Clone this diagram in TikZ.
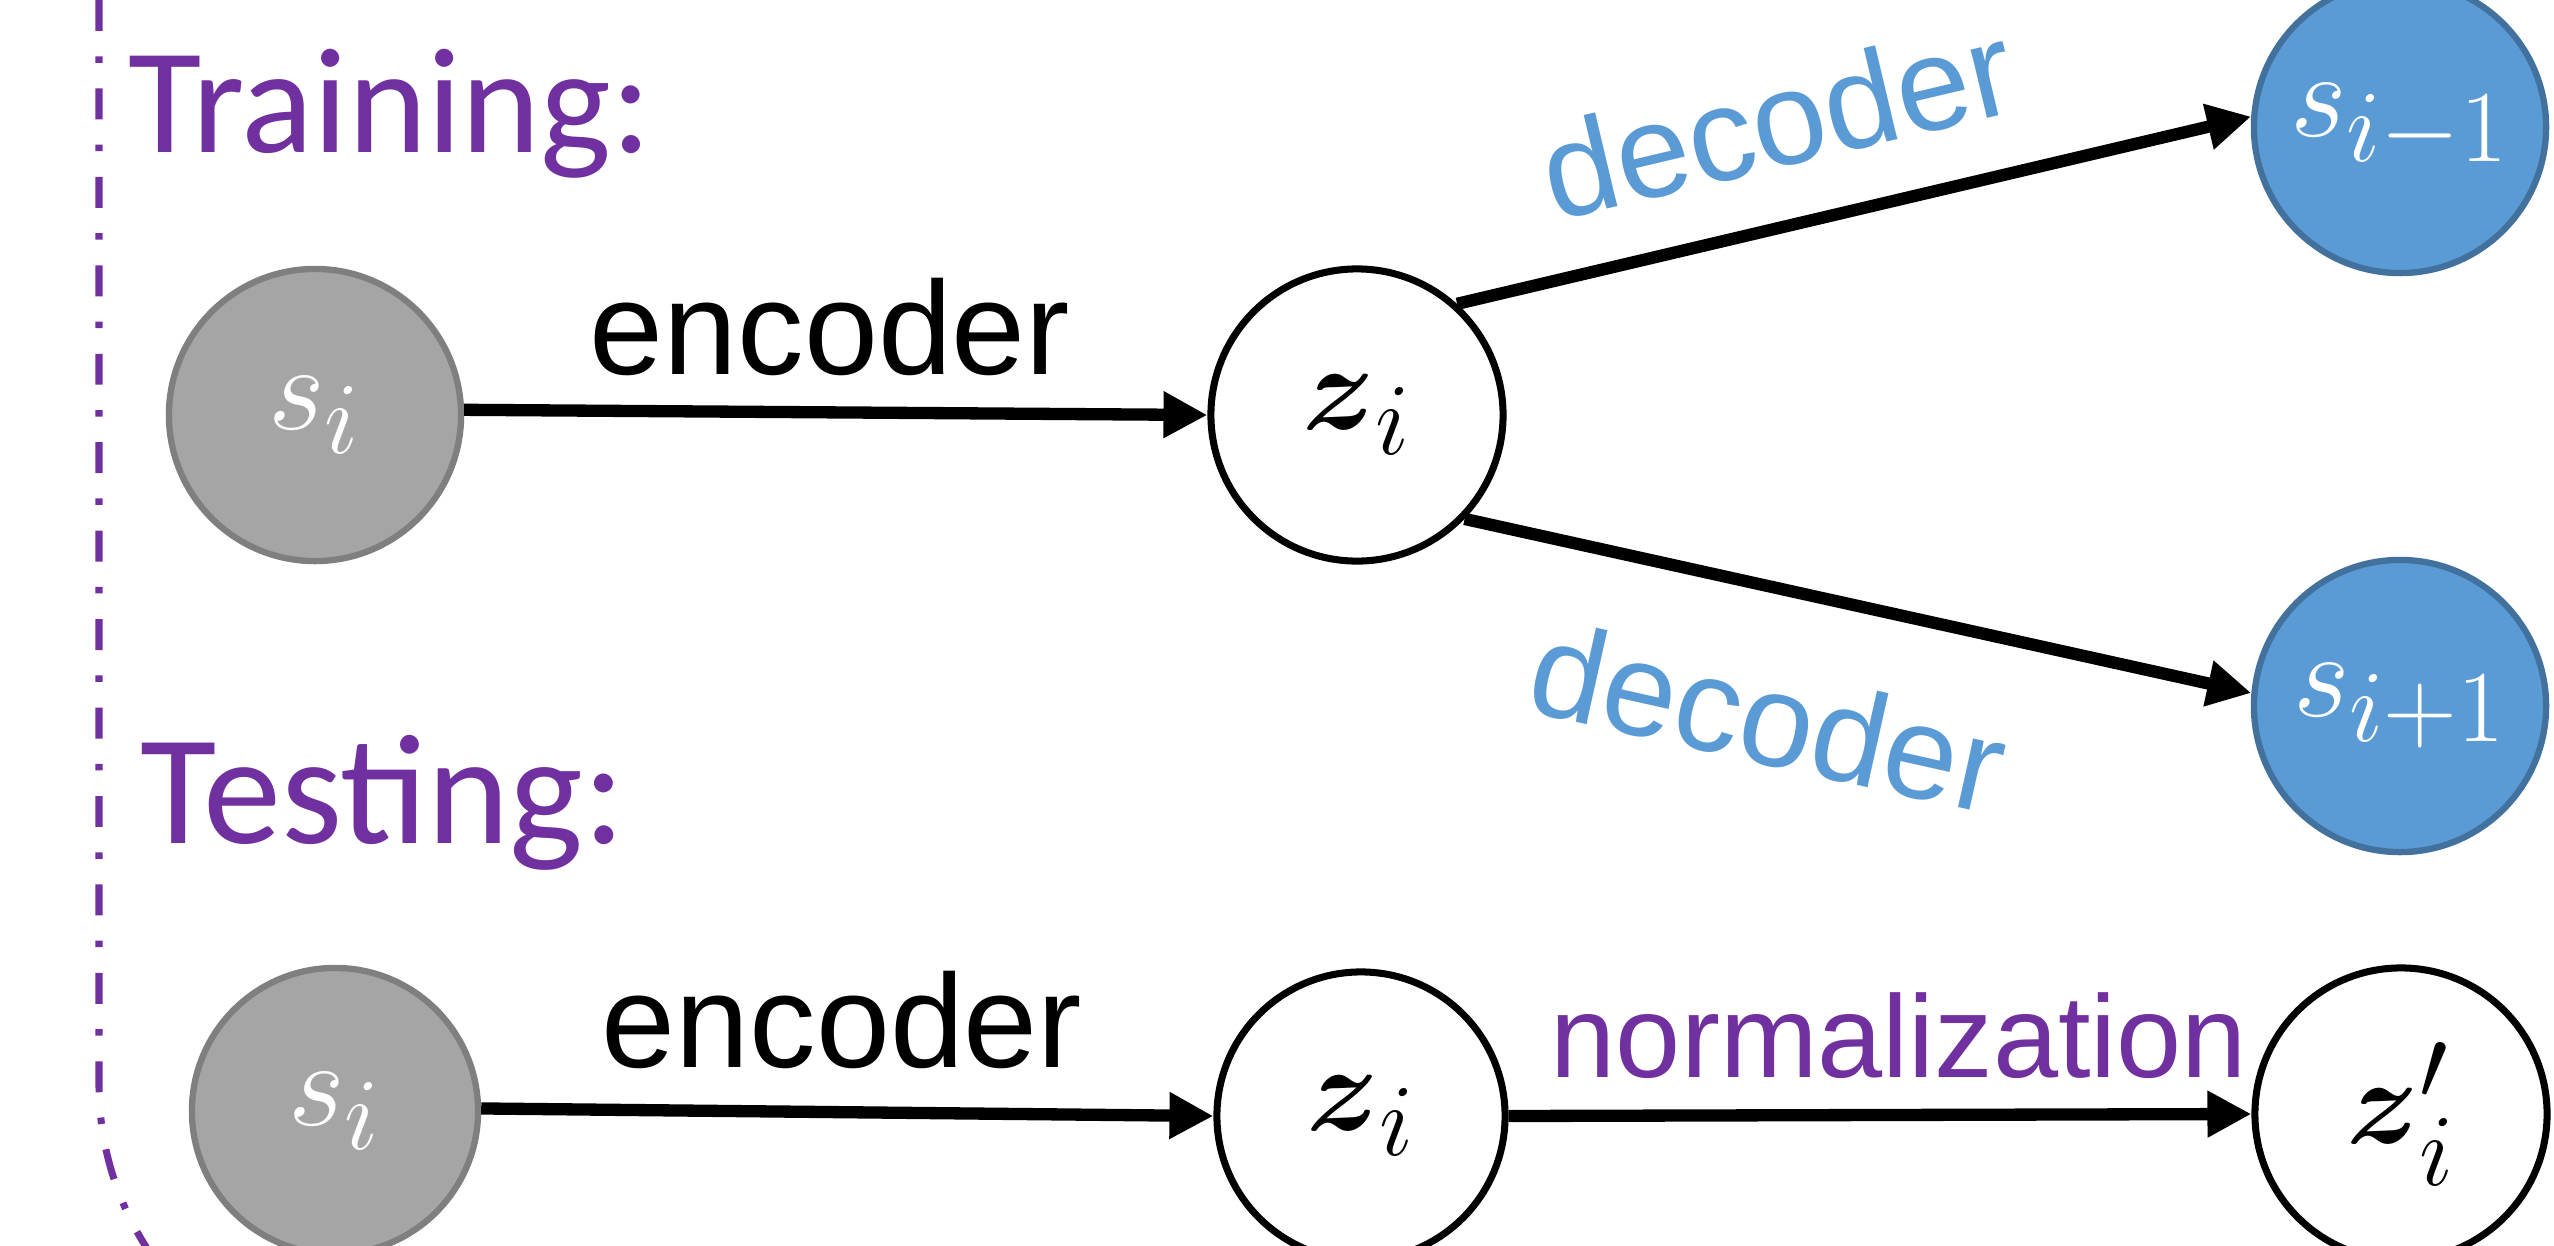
\RequirePackage{fix-cm}
\documentclass[tikz,border=0pt]{standalone}
\usepackage{graphicx}
\usepackage{amsmath,amsbsy}
\usepackage{fontspec}
\newfontfamily\calibrif{Carlito}
\newfontfamily\arialf{Liberation Sans}
\usetikzlibrary{arrows.meta}
\definecolor{purp}{HTML}{7030A0}
\definecolor{bluef}{HTML}{5B9BD5}
\definecolor{blued}{HTML}{41719C}
\definecolor{grayf}{HTML}{A5A5A5}
\definecolor{grayd}{HTML}{7F7F7F}
\newcommand{\bigmath}[1]{\scalebox{1.4}{$#1$}}
\begin{document}
\begin{tikzpicture}[x=0.01cm,y=-0.01cm,
  base/.style={circle, minimum size=2.92cm, inner sep=0pt, line width=1.8pt,
    font=\fontsize{24.88pt}{30pt}\selectfont},
  graynode/.style={base, fill=grayf, draw=grayd, text=white},
  bluenode/.style={base, fill=bluef, draw=blued, text=white},
  whitenode/.style={base, fill=white, draw=black, line width=2pt},
  conn/.style={line width=3.5pt, -{Triangle[length=12.5pt,width=12.5pt]}},
  heading/.style={text=purp, font=\calibrif\fontsize{42.7pt}{50pt}\selectfont, inner sep=0pt, anchor=base west},
  lbl/.style={font=\arialf\fontsize{37.8pt}{44pt}\selectfont, inner sep=0pt, anchor=base},
  border/.style={draw=purp, line width=2pt, dash pattern=on 8.8pt off 7.2pt on 1.85pt off 7.3pt}
]
\useasboundingbox (0,0) rectangle (2554,1245);
\begin{scope}
\clip (0,0) rectangle (2554,1245);
% frame line
\draw[border] (99,0) -- (99,1085) arc[start angle=180, end angle=140, radius=302];

% nodes
\node[graynode] (sA) at (315,415) {\bigmath{s_i}};
\node[whitenode] (zA) at (1357,415) {\bigmath{\boldsymbol{z}_i}};
\node[bluenode] (sm) at (2400,127) {\bigmath{s_{i-1}}};
\node[bluenode] (sp) at (2400,706) {\bigmath{s_{i+1}}};
\node[graynode, minimum size=2.86cm] (sB) at (335,1111) {\bigmath{s_i}};
\node[whitenode, minimum size=2.88cm] (zB) at (1361,1116) {\bigmath{\boldsymbol{z}_i}};
\node[whitenode] (zp) at (2401,1114) {\bigmath{\boldsymbol{z}'_i}};

% headings
\node[heading] (train) at (128,152) {Training:};
\node[heading, font=\calibrif\fontsize{44.5pt}{52pt}\selectfont] (test) at (140,843) {Testing:};

% connectors
\draw[conn] (sA.2) -- (zA.west);
\draw[conn] (zA.48) -- (sm.176);
\draw[conn] (zA.-44) -- (sp.175);
\draw[conn] (sB.1) -- (zB.west);
\draw[conn] (zB.east) -- (zp.west);

% labels
\node[lbl] (encA) at (830,374) {encoder};
\node[lbl] (encB) at (842,1067) {encoder};
\node[lbl, text=bluef, rotate=13.3] (decA) at (1788,166) {decoder};
\node[lbl, text=bluef, rotate=-12.6] (decB) at (1758,763) {decoder};
\node[lbl, text=purp, font=\arialf\fontsize{33.3pt}{40pt}\selectfont] (norm) at (1899,1077) {normalization};
\end{scope}
\end{tikzpicture}
\end{document}
